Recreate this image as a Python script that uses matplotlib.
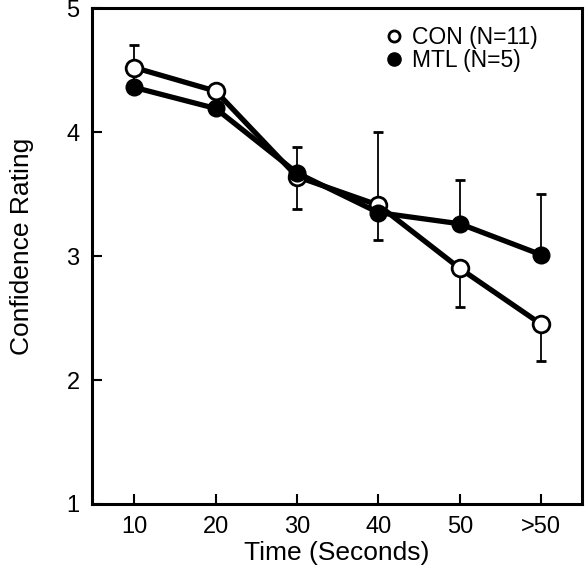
import matplotlib
matplotlib.use('Agg')
import matplotlib.pyplot as plt
from matplotlib.lines import Line2D
import numpy as np

plt.rcParams['font.family'] = ['Liberation Sans', 'DejaVu Sans']

time_labels = ['10', '20', '30', '40', '50', '>50']
con_mean = [4.52, 4.33, 3.64, 3.41, 2.90, 2.45]
con_err_down = [0.12, 0.10, 0.26, 0.28, 0.31, 0.30]
mtl_mean = [4.36, 4.19, 3.67, 3.35, 3.26, 3.01]
mtl_err_up = [0.34, 0.12, 0.21, 0.65, 0.35, 0.49]

x = np.arange(len(time_labels))

fig = plt.figure(figsize=(5.86, 5.75), dpi=100)
ax = fig.add_axes([0.157, 0.1235, 0.836, 0.8625])

# error bars: CON downward, MTL upward
ax.errorbar(x, con_mean, yerr=[con_err_down, [0] * len(x)], fmt='none',
            ecolor='black', elinewidth=1.3, capsize=3.8, capthick=2, zorder=1)
ax.errorbar(x, mtl_mean, yerr=[[0] * len(x), mtl_err_up], fmt='none',
            ecolor='black', elinewidth=1.3, capsize=3.8, capthick=2, zorder=1)

ax.plot(x, con_mean, '-o', color='black', lw=3.8, ms=12, mfc='white',
        mec='black', mew=2, zorder=2)
ax.plot(x, mtl_mean, '-o', color='black', lw=3.8, ms=12, mfc='black',
        mec='black', zorder=3)

ax.set_xlim(-0.52, 5.5)
ax.set_ylim(1, 5)
ax.set_xticks(x)
ax.set_xticklabels(time_labels)
ax.set_yticks([1, 2, 3, 4, 5])
ax.tick_params(direction='in', length=7, width=1.5, labelsize=17, pad=9)
for s in ax.spines.values():
    s.set_linewidth(2.2)

ax.set_xlabel('Time (Seconds)', fontsize=19, labelpad=2)
ax.set_ylabel('Confidence Rating', fontsize=19)
ax.yaxis.set_label_coords(-0.118, 0.52)

handles = [
    Line2D([], [], ls='none', marker='o', ms=8, mfc='white', mec='black', mew=2),
    Line2D([], [], ls='none', marker='o', ms=9.5, mfc='black', mec='black'),
]
ax.legend(handles, ['CON (N=11)', 'MTL (N=5)'], loc='upper right',
          frameon=False, fontsize=16.5, handlelength=0.8, handletextpad=0.4,
          labelspacing=0.0, borderaxespad=0.4, bbox_to_anchor=(0.948, 1.0))

fig.savefig('out.png', dpi=100)
